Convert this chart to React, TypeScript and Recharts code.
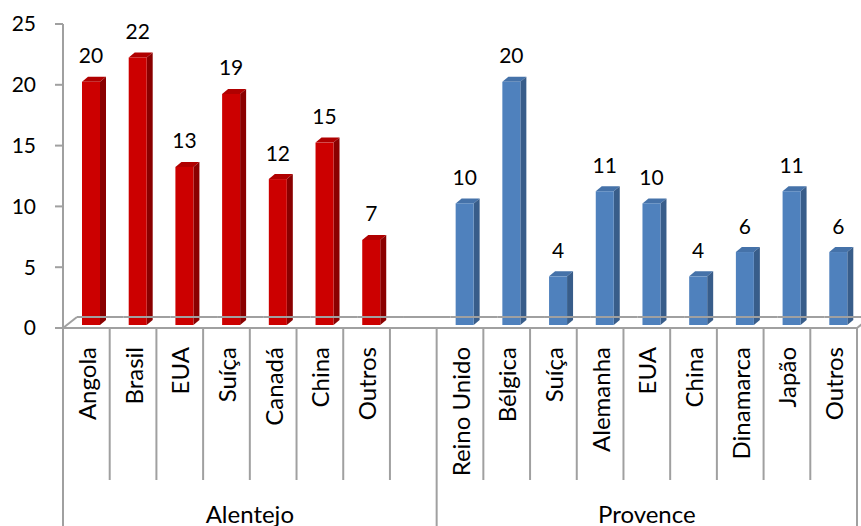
import { BarChart, Bar, XAxis, YAxis, LabelList } from 'recharts'

const alentejoCountries = ['Angola', 'Brasil', 'EUA', 'Suíça', 'Canadá', 'China', 'Outros']
const alentejoValues = [20, 22, 13, 19, 12, 15, 7]
const provenceCountries = ['Reino Unido', 'Bélgica', 'Suíça', 'Alemanha', 'EUA', 'China', 'Dinamarca', 'Japão', 'Outros']
const provenceValues = [10, 20, 4, 11, 10, 4, 6, 11, 6]
const yTicks = [0, 5, 10, 15, 20, 25]

const FONT = 'Lato, "Open Sans", sans-serif'
const AXIS_GREY = '#a0a0a0'

const palette: Record<string, { front: string; side: string; top: string }> = {
  Alentejo: { front: '#cc0000', side: '#8a0000', top: '#b00000' },
  Provence: { front: '#4f81bd', side: '#385d8a', top: '#4572a9' },
}

type Row = { id: string; country: string; group: string; value: number | null }

const rows: Row[] = [
  ...alentejoCountries.map((c, i) => ({ id: `a${i}`, country: c, group: 'Alentejo', value: alentejoValues[i] })),
  // empty slot closing the Alentejo block
  { id: 'a-gap', country: '', group: 'Alentejo', value: null },
  ...provenceCountries.map((c, i) => ({ id: `p${i}`, country: c, group: 'Provence', value: provenceValues[i] })),
]

const groupSize = (g: string) => rows.filter((r) => r.group === g).length
const isGroupStart = (i: number) => i === 0 || rows[i - 1].group !== rows[i].group

// pseudo-3D extrusion of each column
const DEPTH = 6
const RISE = 5
const SHIFT_X = 5
const SHIFT_Y = -3

function Column(props: any) {
  const { x, y, width, height, payload } = props
  if (payload?.value == null || !height) return null
  const c = palette[payload.group]
  const fx = x + SHIFT_X
  const fy = y + SHIFT_Y
  const w = width
  const h = height
  return (
    <g>
      <polygon
        points={`${fx},${fy} ${fx + DEPTH},${fy - RISE} ${fx + w + DEPTH},${fy - RISE} ${fx + w},${fy}`}
        fill={c.top}
      />
      <polygon
        points={`${fx + w},${fy} ${fx + w + DEPTH},${fy - RISE} ${fx + w + DEPTH},${fy + h - RISE} ${fx + w},${fy + h}`}
        fill={c.side}
      />
      <rect x={fx} y={fy} width={w} height={h} fill={c.front} />
    </g>
  )
}

function ValueLabel(props: any) {
  const { x, y, width, value } = props
  if (value == null) return null
  return (
    <text
      x={x + width / 2 + SHIFT_X}
      y={y + SHIFT_Y - 27}
      textAnchor="middle"
      dominantBaseline="central"
      fontSize={21}
      fontFamily={FONT}
      fill="#000"
    >
      {value}
    </text>
  )
}

function CategoryTick(props: any) {
  const { x, y, payload, index } = props
  const row = rows[index]
  const half = payload?.offset ?? 0
  const left = x - half
  const right = x + half
  const last = index === rows.length - 1
  const floorY = y - 11
  return (
    <g>
      {/* floor of the 3D plot */}
      <line x1={left + 14} y1={floorY} x2={right + 14} y2={floorY} stroke={AXIS_GREY} strokeWidth={2} />
      {index === 0 && <line x1={left} y1={y} x2={left + 14} y2={floorY} stroke={AXIS_GREY} strokeWidth={2} />}
      {last && <line x1={right} y1={y} x2={right + 14} y2={floorY} stroke={AXIS_GREY} strokeWidth={2} />}
      <line
        x1={left}
        y1={y}
        x2={left}
        y2={isGroupStart(index) ? y + 198 : y + 152}
        stroke={AXIS_GREY}
        strokeWidth={2}
      />
      {last && <line x1={right} y1={y} x2={right} y2={y + 198} stroke={AXIS_GREY} strokeWidth={2} />}
      {row.country && (
        <text
          x={x}
          y={y + 19}
          transform={`rotate(-90 ${x} ${y + 19})`}
          textAnchor="end"
          dominantBaseline="central"
          fontSize={24}
          fontFamily={FONT}
          fill="#000"
        >
          {row.country}
        </text>
      )}
      {isGroupStart(index) && (
        <text
          x={left + half * groupSize(row.group)}
          y={y + 185}
          textAnchor="middle"
          dominantBaseline="central"
          fontSize={24}
          fontFamily={FONT}
          fill="#000"
        >
          {row.group}
        </text>
      )}
    </g>
  )
}

export default function App() {
  return (
    <div style={{ position: 'absolute', left: 0, top: 0, background: '#fff' }}>
      <BarChart
        width={861}
        height={526}
        data={rows}
        margin={{ top: 24, right: 4, bottom: 0, left: 0 }}
        style={{ fontFamily: FONT }}
      >
        <XAxis
          dataKey="id"
          interval={0}
          height={198}
          tickLine={false}
          tickSize={0}
          tickMargin={0}
          axisLine={{ stroke: AXIS_GREY, strokeWidth: 2 }}
          tick={<CategoryTick />}
        />
        <YAxis
          width={63}
          domain={[0, 25]}
          ticks={yTicks}
          interval={0}
          tickSize={8}
          tickMargin={19}
          axisLine={{ stroke: AXIS_GREY, strokeWidth: 2 }}
          tickLine={{ stroke: AXIS_GREY, strokeWidth: 2 }}
          tick={{ fill: '#000', fontSize: 21, fontFamily: FONT }}
        />
        <Bar dataKey="value" barSize={18} shape={<Column />} isAnimationActive={false}>
          <LabelList dataKey="value" content={<ValueLabel />} />
        </Bar>
      </BarChart>
    </div>
  )
}
